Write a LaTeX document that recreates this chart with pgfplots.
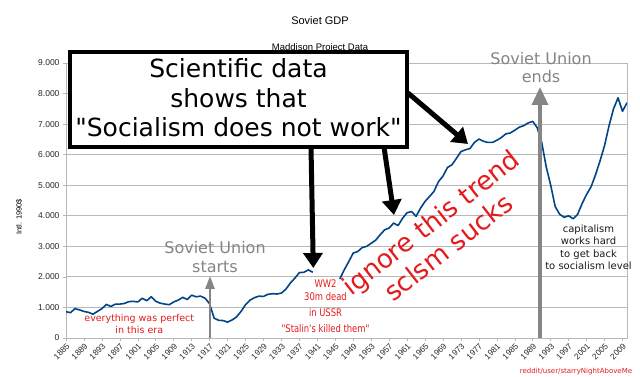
\documentclass[border=0pt]{standalone}
\usepackage{fontspec}
\setmainfont{Liberation Sans}
\newfontfamily\dejavu{DejaVu Sans}
\usepackage{graphicx}
\usepackage{pgfplots}
\pgfplotsset{compat=1.18}
\usetikzlibrary{arrows.meta}
\definecolor{sovblue}{HTML}{004586}
\definecolor{annred}{HTML}{E41A1C}
\definecolor{anngray}{HTML}{858585}
\definecolor{gridgray}{HTML}{B8B8B8}
\begin{document}
\begin{tikzpicture}[x=1pt,y=1pt]
\useasboundingbox (0,0) rectangle (640,377);
\begin{axis}[at={(66pt,39pt)}, anchor=south west, scale only axis,
  width=561pt, height=275pt,
  xmin=1885, xmax=2010, ymin=0, ymax=9000,
  xtick={1885,1889,...,2009}, minor x tick num=3,
  ytick={0,1000,...,9000},
  ymajorgrids, grid style={gridgray, line width=0.8pt},
  axis line style={gridgray, line width=0.8pt},
  tick style={gridgray, line width=0.6pt},
  tick align=outside, major tick length=3pt, minor tick length=3pt,
  tick pos=left,
  /pgf/number format/assume math mode=true,
  yticklabel style={font=\fontsize{8.5}{10}\selectfont, text=black!85, /pgf/number format/1000 sep={.}, /pgf/number format/fixed},
  xticklabel style={font=\fontsize{8.3}{9}\selectfont, text=black!85, rotate=45, anchor=north east, inner sep=1.2pt, /pgf/number format/1000 sep={}},
]
\addplot[color=sovblue, line width=1.6pt, line join=round] coordinates {
(1885,860) (1886,830) (1887,960) (1888,920) (1889,870) (1890,840) (1891,780) (1892,870)
(1893,960) (1894,1100) (1895,1030) (1896,1110) (1897,1110) (1898,1130) (1899,1190) (1900,1200)
(1901,1180) (1902,1300) (1903,1220) (1904,1350) (1905,1200) (1906,1140) (1907,1110) (1908,1090)
(1909,1180) (1910,1240) (1911,1330) (1912,1260) (1913,1400) (1914,1350) (1915,1370) (1916,1300)
(1917,1120) (1918,650) (1919,580) (1920,570) (1921,520) (1922,590) (1923,690) (1924,870)
(1925,1090) (1926,1240) (1927,1320) (1928,1370) (1929,1360) (1930,1430) (1931,1450) (1932,1440)
(1933,1470) (1934,1600) (1935,1800) (1936,1960) (1937,2140) (1938,2150) (1939,2230) (1940,2150)
};
\addplot[color=sovblue, line width=1.6pt, line join=round] coordinates {
(1946,1930) (1947,2230) (1948,2500) (1949,2780) (1950,2830) (1951,2960) (1952,3000) (1953,3100)
(1954,3200) (1955,3380) (1956,3540) (1957,3600) (1958,3760) (1959,3680) (1960,3920) (1961,4100)
(1962,4140) (1963,3980) (1964,4250) (1965,4470) (1966,4630) (1967,4800) (1968,5120) (1969,5300)
(1970,5580) (1971,5670) (1972,5880) (1973,6100) (1974,6160) (1975,6200) (1976,6400) (1977,6510)
(1978,6440) (1979,6400) (1980,6400) (1981,6470) (1982,6560) (1983,6680) (1984,6710) (1985,6800)
(1986,6900) (1987,6950) (1988,7040) (1989,7090) (1990,6880) (1991,6400) (1992,5600) (1993,5000)
(1994,4300) (1995,4050) (1996,3950) (1997,4000) (1998,3900) (1999,4050) (2000,4400) (2001,4700)
(2002,4950) (2003,5350) (2004,5800) (2005,6300) (2006,6950) (2007,7500) (2008,7860) (2009,7420)
(2010,7700)
};
\end{axis}
% titles
\node[anchor=base, font=\fontsize{11}{13}\selectfont, inner sep=0] at (320,352) {Soviet GDP};
\node[anchor=base, font=\fontsize{9.5}{11}\selectfont, inner sep=0] at (320,326.5) {Maddison Project Data};
\node[rotate=90, font=\fontsize{7.5}{9}\selectfont, inner sep=0] at (19,160) {Intl. 1990\$};
% gray arrows and labels
\draw[anngray, line width=2.5pt, -{Triangle[width=9pt,length=13pt]}] (210,39) -- (210,101);
\draw[anngray, line width=3.5pt, -{Triangle[width=16pt,length=18pt]}] (540,39) -- (540,290);
\begin{scope}[every node/.style={anchor=base, inner sep=0, text=anngray, font=\dejavu\fontsize{16}{19}\selectfont}]
\node at (215,123) {Soviet Union};
\node at (215,104.7) {starts};
\node at (541,312.7) {Soviet Union};
\node at (541,294.3) {ends};
\end{scope}
% red annotations
\begin{scope}[every node/.style={anchor=base, inner sep=0, text=annred, font=\dejavu\fontsize{9.5}{11}\selectfont}]
\node at (139.3,55.5) {everything was perfect};
\node at (139.3,43.7) {in this era};
\end{scope}
\begin{scope}[every node/.style={anchor=base, inner sep=0, text=annred, font=\dejavu\fontsize{10.5}{12}\selectfont}]
\node at (325.5,89.7) {\scalebox{0.8}[1]{WW2}};
\node at (325.5,76) {\scalebox{0.8}[1]{30m dead}};
\node at (325.5,60.3) {\scalebox{0.8}[1]{in USSR}};
\node at (325.5,44.3) {\scalebox{0.8}[1]{"Stalin's killed them"}};
\end{scope}
\begin{scope}[every node/.style={anchor=base, inner sep=0, text=annred, rotate=38, font=\dejavu\fontsize{26}{31}\selectfont}]
\node at (383.9,105.7) {ignore};
\node at (441.7,150.9) {this};
\node at (494.5,192.2) {trend};
\node at (422.2,97.0) {sclsm};
\node at (486.6,147.3) {sucks};
\end{scope}
\begin{scope}[every node/.style={anchor=base, inner sep=0, text=black!90, font=\dejavu\fontsize{10}{12}\selectfont}]
\node at (588.5,144.3) {capitalism};
\node at (588.5,132) {works hard};
\node at (588.5,119.3) {to get back};
\node at (588.5,107) {to socialism level};
\end{scope}
\node[anchor=base, inner sep=0, text=annred, font=\dejavu\fontsize{7}{8}\selectfont] at (576,3.5) {reddit/user/starryNightAboveMe};
% black box and arrows
\draw[black, line width=3.5pt, fill=white] (70,230) rectangle (407,325);
\begin{scope}[every node/.style={anchor=base, inner sep=0, text=black, font=\dejavu\fontsize{25}{30}\selectfont}]
\node at (238.5,299.7) {Scientific data};
\node at (238.5,269.7) {shows that};
\node at (238.5,240.3) {"Socialism does not work"};
\end{scope}
\begin{scope}[black, line width=5pt, -{Triangle[width=19pt,length=15pt]}]
\draw (311,230) -- (313.3,109);
\draw (384,230) -- (394,162);
\draw (408,284) -- (468,233);
\end{scope}
\end{tikzpicture}
\end{document}
